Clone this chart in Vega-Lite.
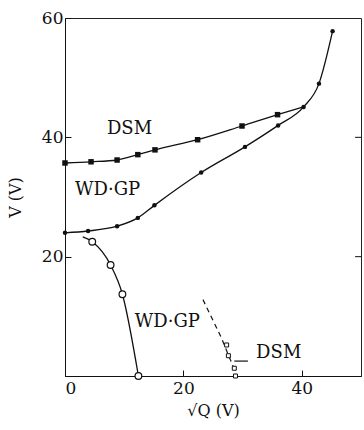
{
  "$schema": "https://vega.github.io/schema/vega-lite/v6.json",
  "width": 296,
  "height": 358,
  "autosize": "none",
  "padding": {"left": 65, "top": 18, "right": 3, "bottom": 54},
  "background": "white",
  "config": {
    "view": {"stroke": "#222", "strokeWidth": 1},
    "font": "DejaVu Serif",
    "axis": {"grid": false, "domainColor": "#111", "tickColor": "#111", "labelColor": "#111", "titleColor": "#111", "labelFont": "DejaVu Serif", "titleFont": "DejaVu Serif", "labelFontSize": 17, "titleFontSize": 16, "titleFontWeight": "normal"}
  },
  "datasets": {
    "curves": [
      {"s": "DSM", "x": 0, "v": 35.7},
      {"s": "DSM", "x": 4.4, "v": 35.9},
      {"s": "DSM", "x": 8.8, "v": 36.2},
      {"s": "DSM", "x": 12.3, "v": 37.1},
      {"s": "DSM", "x": 15.2, "v": 37.9},
      {"s": "DSM", "x": 22.4, "v": 39.6},
      {"s": "DSM", "x": 29.9, "v": 41.9},
      {"s": "DSM", "x": 35.9, "v": 43.8},
      {"s": "DSM", "x": 40.3, "v": 45.1},
      {"s": "WDGP", "x": 0, "v": 24.0},
      {"s": "WDGP", "x": 3.9, "v": 24.3},
      {"s": "WDGP", "x": 8.8, "v": 25.1},
      {"s": "WDGP", "x": 12.3, "v": 26.5},
      {"s": "WDGP", "x": 15.1, "v": 28.6},
      {"s": "WDGP", "x": 23.0, "v": 34.1},
      {"s": "WDGP", "x": 30.4, "v": 38.4},
      {"s": "WDGP", "x": 36.0, "v": 42.0},
      {"s": "WDGP", "x": 40.3, "v": 45.1},
      {"s": "WDGP", "x": 42.9, "v": 49.0},
      {"s": "WDGP", "x": 45.2, "v": 57.8},
      {"s": "WDGP_low", "x": 3.0, "v": 23.3},
      {"s": "WDGP_low", "x": 4.6, "v": 22.5},
      {"s": "WDGP_low", "x": 7.7, "v": 18.6},
      {"s": "WDGP_low", "x": 9.7, "v": 13.7},
      {"s": "WDGP_low", "x": 12.4, "v": 0},
      {"s": "DSM_low", "x": 23.3, "v": 12.8},
      {"s": "DSM_low", "x": 25.0, "v": 9.3},
      {"s": "DSM_low", "x": 26.5, "v": 6.2},
      {"s": "DSM_low", "x": 27.6, "v": 3.5},
      {"s": "DSM_low", "x": 28.5, "v": 1.2},
      {"s": "DSM_low", "x": 28.8, "v": 0}
    ],
    "points": [
      {"s": "DSM", "x": 0, "v": 35.7},
      {"s": "DSM", "x": 4.4, "v": 35.9},
      {"s": "DSM", "x": 8.8, "v": 36.2},
      {"s": "DSM", "x": 12.3, "v": 37.1},
      {"s": "DSM", "x": 15.2, "v": 37.9},
      {"s": "DSM", "x": 22.4, "v": 39.6},
      {"s": "DSM", "x": 29.9, "v": 41.9},
      {"s": "DSM", "x": 35.9, "v": 43.8},
      {"s": "WDGP", "x": 0, "v": 24.0},
      {"s": "WDGP", "x": 3.9, "v": 24.3},
      {"s": "WDGP", "x": 8.8, "v": 25.1},
      {"s": "WDGP", "x": 12.3, "v": 26.5},
      {"s": "WDGP", "x": 15.1, "v": 28.6},
      {"s": "WDGP", "x": 23.0, "v": 34.1},
      {"s": "WDGP", "x": 30.4, "v": 38.4},
      {"s": "WDGP", "x": 36.0, "v": 42.0},
      {"s": "WDGP", "x": 40.3, "v": 45.1},
      {"s": "WDGP", "x": 42.9, "v": 49.0},
      {"s": "WDGP", "x": 45.2, "v": 57.8},
      {"s": "WDGP_low", "x": 4.6, "v": 22.5},
      {"s": "WDGP_low", "x": 7.7, "v": 18.6},
      {"s": "WDGP_low", "x": 9.7, "v": 13.7},
      {"s": "WDGP_low", "x": 12.4, "v": 0},
      {"s": "DSM_low", "x": 27.3, "v": 5.2},
      {"s": "DSM_low", "x": 27.6, "v": 3.4},
      {"s": "DSM_low", "x": 28.6, "v": 1.3},
      {"s": "DSM_low", "x": 28.8, "v": 0}
    ],
    "labels": [
      {"t": "DSM", "x": 10.9, "v": 41.4},
      {"t": "WD·GP", "x": 7.2, "v": 31.2},
      {"t": "WD·GP", "x": 17.3, "v": 9.1},
      {"t": "DSM", "x": 36.1, "v": 3.9}
    ],
    "leader": [
      {"x": 28.6, "x2": 30.9, "v": 2.5}
    ],
    "rightticks": [
      {"x": 49.0, "x2": 50, "v": 20},
      {"x": 49.0, "x2": 50, "v": 40}
    ]
  },
  "layer": [
    {
      "data": {"name": "curves"},
      "transform": [{"filter": "datum.s !== 'DSM_low'"}],
      "mark": {"type": "line", "interpolate": "monotone", "color": "#111", "strokeWidth": 1.3},
      "encoding": {
        "x": {"field": "x", "type": "quantitative", "scale": {"domain": [0, 50], "nice": false}, "axis": {"values": [0, 20, 40], "tickSize": -6, "labelPadding": 10, "title": "√Q  (V)", "titlePadding": 6}},
        "y": {"field": "v", "type": "quantitative", "scale": {"domain": [0, 60], "nice": false}, "axis": {"values": [20, 40, 60], "tickSize": -6, "labelPadding": 8, "title": "V (V)", "titlePadding": 18}},
        "detail": {"field": "s"}
      }
    },
    {
      "data": {"name": "curves"},
      "transform": [{"filter": "datum.s === 'DSM_low'"}],
      "mark": {"type": "line", "interpolate": "monotone", "color": "#111", "strokeWidth": 1.2, "strokeDash": [5, 4]},
      "encoding": {
        "x": {"field": "x", "type": "quantitative"},
        "y": {"field": "v", "type": "quantitative"}
      }
    },
    {
      "data": {"name": "points"},
      "transform": [{"filter": "datum.s === 'DSM'"}],
      "mark": {"type": "point", "shape": "square", "filled": true, "color": "#111", "size": 30, "opacity": 1},
      "encoding": {
        "x": {"field": "x", "type": "quantitative"},
        "y": {"field": "v", "type": "quantitative"}
      }
    },
    {
      "data": {"name": "points"},
      "transform": [{"filter": "datum.s === 'WDGP'"}],
      "mark": {"type": "point", "shape": "circle", "filled": true, "color": "#111", "size": 20, "opacity": 1},
      "encoding": {
        "x": {"field": "x", "type": "quantitative"},
        "y": {"field": "v", "type": "quantitative"}
      }
    },
    {
      "data": {"name": "points"},
      "transform": [{"filter": "datum.s === 'WDGP_low'"}],
      "mark": {"type": "point", "shape": "circle", "filled": true, "fill": "white", "stroke": "#111", "strokeWidth": 1.2, "size": 45, "opacity": 1},
      "encoding": {
        "x": {"field": "x", "type": "quantitative"},
        "y": {"field": "v", "type": "quantitative"}
      }
    },
    {
      "data": {"name": "points"},
      "transform": [{"filter": "datum.s === 'DSM_low'"}],
      "mark": {"type": "point", "shape": "square", "filled": true, "fill": "white", "stroke": "#111", "strokeWidth": 1, "size": 16, "opacity": 1},
      "encoding": {
        "x": {"field": "x", "type": "quantitative"},
        "y": {"field": "v", "type": "quantitative"}
      }
    },
    {
      "data": {"name": "leader"},
      "mark": {"type": "rule", "color": "#111", "strokeWidth": 1.2},
      "encoding": {
        "x": {"field": "x", "type": "quantitative"},
        "x2": {"field": "x2"},
        "y": {"field": "v", "type": "quantitative"}
      }
    },
    {
      "data": {"name": "rightticks"},
      "mark": {"type": "rule", "color": "#111", "strokeWidth": 1},
      "encoding": {
        "x": {"field": "x", "type": "quantitative"},
        "x2": {"field": "x2"},
        "y": {"field": "v", "type": "quantitative"}
      }
    },
    {
      "data": {"name": "labels"},
      "mark": {"type": "text", "font": "DejaVu Serif", "fontSize": 18, "color": "#111", "align": "center", "baseline": "middle"},
      "encoding": {
        "x": {"field": "x", "type": "quantitative"},
        "y": {"field": "v", "type": "quantitative"},
        "text": {"field": "t"}
      }
    }
  ]
}
